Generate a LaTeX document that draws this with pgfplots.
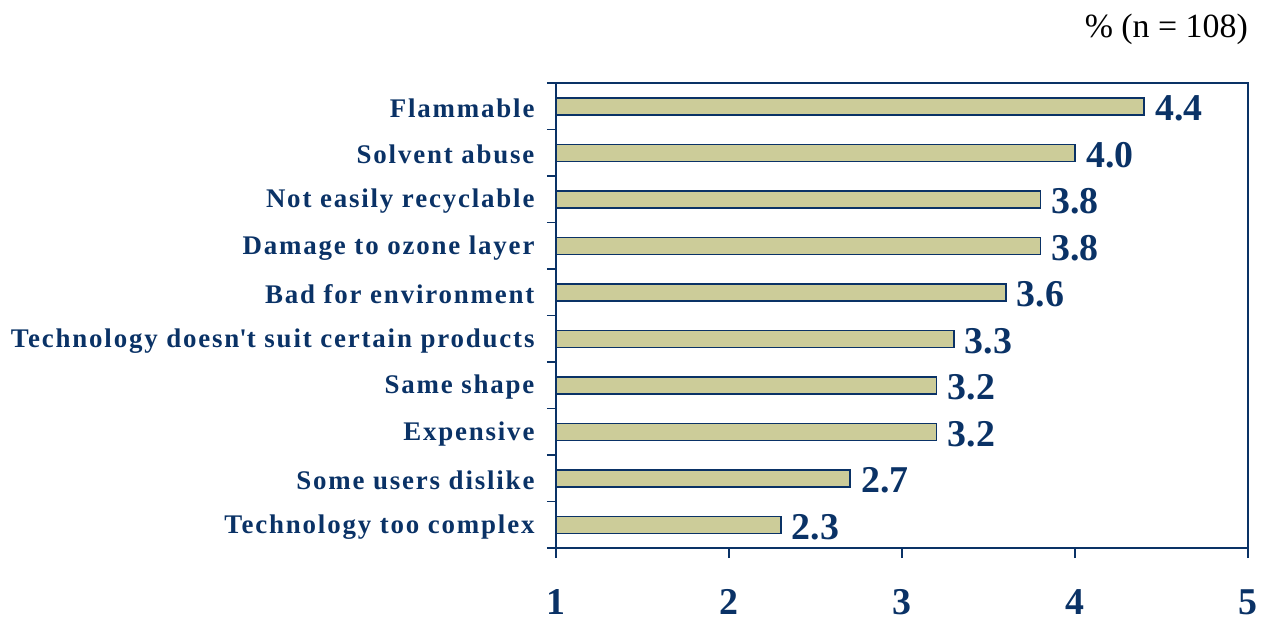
\documentclass[border=0pt]{standalone}
\usepackage{fontspec}
\setmainfont{Liberation Serif}
\newfontfamily\catfont[LetterSpace=6.8]{Liberation Serif}
\usepackage{pgfplots}
\pgfplotsset{compat=1.18}
\definecolor{navy}{RGB}{10,50,102}
\definecolor{barfill}{RGB}{204,204,153}
\begin{document}
\begin{tikzpicture}
\useasboundingbox (0,0) rectangle (1267bp,626bp);
\node[anchor=base east, inner sep=0pt, font=\fontsize{34}{38}\selectfont] at (1248bp,588bp) {\% (n = 108)};
\begin{axis}[
  at={(556bp,78bp)}, anchor=south west,
  scale only axis, width=692bp, height=465bp,
  xbar, bar width=17bp,
  xmin=1, xmax=5, ymin=-0.5, ymax=9.5,
  xtick={1,2,3,4,5},
  ytick={0,...,9},
  yticklabels={Technology too complex, Some users dislike, Expensive, Same shape,
    Technology doesn\textquotesingle t suit certain products, Bad for environment,
    Damage to ozone layer, Not easily recyclable, Solvent abuse, Flammable},
  ytick style={draw=none},
  minor ytick={-0.5,0.5,...,9.5},
  minor tick length=9bp,
  minor y tick style={draw=navy, line width=1.6bp},
  major tick length=10bp,
  tick align=outside,
  x tick style={draw=navy, line width=1.6bp},
  xtick pos=bottom, ytick pos=left,
  axis line style={draw=navy, line width=1.8bp},
  /pgf/number format/assume math mode=true,
  xticklabel style={font=\bfseries\fontsize{38}{40}\selectfont, text=navy, yshift=-28bp},
  yticklabel style={font=\catfont\bfseries\fontsize{27}{29}\selectfont, text=navy, xshift=-8bp, yshift=-2bp},
  nodes near coords,
  nodes near coords style={font=\bfseries\fontsize{38}{40}\selectfont, text=navy, anchor=west, xshift=7bp, yshift=-2bp,
    /pgf/number format/.cd, fixed, fixed zerofill, precision=1},
]
\addplot[fill=barfill, draw=navy, line width=1.5bp] coordinates {
  (2.3,0) (2.7,1) (3.2,2) (3.2,3) (3.3,4) (3.6,5) (3.8,6) (3.8,7) (4.0,8) (4.4,9)
};
\end{axis}
\end{tikzpicture}
\end{document}
